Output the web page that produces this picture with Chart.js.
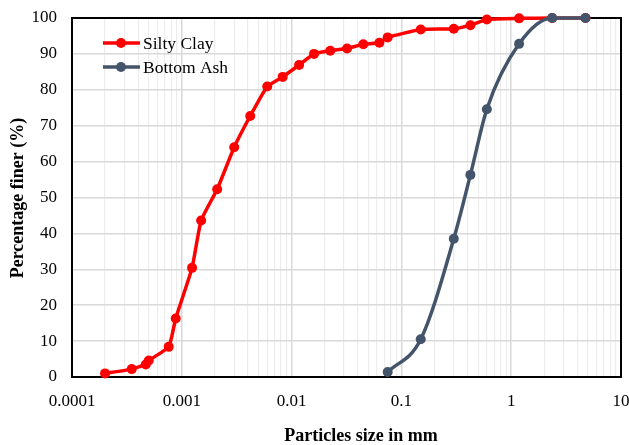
<!DOCTYPE html>
<html>
<head>
<meta charset="utf-8">
<script src="https://cdn.jsdelivr.net/npm/chart.js@4.4.1/dist/chart.umd.min.js"></script>
<style>
  html, body { margin: 0; padding: 0; background: #ffffff; }
  #wrap { width: 629px; height: 445px; position: relative; }
</style>
</head>
<body>
<div id="wrap"><canvas id="grading"></canvas></div>
<script>
// Grain size distribution: particle diameter (mm) vs percentage finer (%)
const seriesNames = ['Silty Clay', 'Bottom Ash'];
const seriesColors = ['#FF0000', '#44546A'];

const clayDiameter = [0.0002, 0.00035, 0.00047, 0.0005, 0.00076, 0.00088, 0.00124, 0.0015,
  0.0021, 0.003, 0.0042, 0.006, 0.0083, 0.0117, 0.016, 0.0225, 0.032, 0.045, 0.063, 0.075,
  0.15, 0.3, 0.425, 0.6, 1.18, 2.36, 4.75];
const clayFiner = [1.0, 2.2, 3.5, 4.6, 8.4, 16.3, 30.4, 43.6,
  52.3, 64.0, 72.7, 80.9, 83.6, 86.9, 90.0, 90.9, 91.5, 92.7, 93.1, 94.6,
  96.8, 97.0, 98.0, 99.6, 99.9, 100, 100];

const ashDiameter = [0.075, 0.15, 0.3, 0.425, 0.6, 1.18, 2.36, 4.75];
const ashFiner = [1.4, 10.5, 38.5, 56.3, 74.6, 92.8, 100, 100];

const xTickLabels = ['0.0001', '0.001', '0.01', '0.1', '1', '10'];
const yTickLabels = [0, 10, 20, 30, 40, 50, 60, 70, 80, 90, 100];
const xAxisTitle = 'Particles size in mm';
const yAxisTitle = 'Percentage finer (%)';

const SERIF = '"Liberation Serif", "Times New Roman", serif';
const decadeValues = xTickLabels.map(Number);

const toPoints = (xs, ys) => xs.map((x, i) => ({ x: x, y: ys[i] }));
const isDecade = v => Math.abs(Math.log10(v) - Math.round(Math.log10(v))) < 1e-9;
const noScalePadding = scale => {
  scale.paddingLeft = 0;
  scale.paddingRight = 0;
  scale.paddingTop = 0;
  scale.paddingBottom = 0;
};

// Black frame around the plotting area
const frame = {
  id: 'frame',
  beforeDatasetsDraw(chart) {
    const { ctx, chartArea: a } = chart;
    ctx.save();
    ctx.strokeStyle = '#000000';
    ctx.lineWidth = 2;
    ctx.strokeRect(a.left, a.top, a.right - a.left, a.bottom - a.top);
    ctx.restore();
  }
};

// Axis titles
const axisTitles = {
  id: 'axisTitles',
  afterDraw(chart) {
    const { ctx } = chart;
    ctx.save();
    ctx.fillStyle = '#000000';
    ctx.font = 'bold 18px ' + SERIF;
    ctx.textAlign = 'center';
    ctx.textBaseline = 'middle';
    ctx.fillText(xAxisTitle, 361, 436);
    ctx.translate(18, 198);
    ctx.rotate(-Math.PI / 2);
    ctx.fillText(yAxisTitle, 0, 0);
    ctx.restore();
  }
};

// Legend drawn inside the plotting area, top left
const insideLegend = {
  id: 'insideLegend',
  afterDatasetsDraw(chart) {
    const { ctx } = chart;
    ctx.save();
    ctx.font = '17.5px ' + SERIF;
    ctx.textBaseline = 'middle';
    ctx.textAlign = 'left';
    chart.data.datasets.forEach((ds, i) => {
      const y = 43 + i * 24;
      ctx.strokeStyle = ds.borderColor;
      ctx.lineWidth = 3.5;
      ctx.beginPath();
      ctx.moveTo(103, y);
      ctx.lineTo(140, y);
      ctx.stroke();
      ctx.fillStyle = ds.backgroundColor;
      ctx.beginPath();
      ctx.arc(121, y, 5, 0, Math.PI * 2);
      ctx.fill();
      ctx.fillStyle = '#000000';
      ctx.fillText(ds.label, 143, y + 1);
    });
    ctx.restore();
  }
};

new Chart(document.getElementById('grading'), {
  type: 'line',
  data: {
    datasets: [
      {
        label: seriesNames[0],
        data: toPoints(clayDiameter, clayFiner),
        borderColor: seriesColors[0],
        backgroundColor: seriesColors[0],
        borderWidth: 3.5,
        pointRadius: 5,
        pointBorderWidth: 0,
        tension: 0.15,
        clip: false,
        order: 1
      },
      {
        label: seriesNames[1],
        data: toPoints(ashDiameter, ashFiner),
        borderColor: seriesColors[1],
        backgroundColor: seriesColors[1],
        borderWidth: 3.5,
        pointRadius: 5,
        pointBorderWidth: 0,
        cubicInterpolationMode: 'monotone',
        clip: false,
        order: 0
      }
    ]
  },
  options: {
    responsive: true,
    maintainAspectRatio: false,
    animation: false,
    events: [],
    layout: { padding: { top: 18, right: 8, left: 0, bottom: 0 } },
    plugins: {
      legend: { display: false },
      tooltip: { enabled: false },
      title: { display: false }
    },
    scales: {
      x: {
        type: 'logarithmic',
        min: decadeValues[0],
        max: decadeValues[decadeValues.length - 1],
        afterFit(scale) { scale.height = 68; noScalePadding(scale); },
        afterBuildTicks(scale) {
          const ticks = [];
          for (let d = 0; d < decadeValues.length - 1; d++) {
            for (let k = 1; k <= 9; k++) ticks.push({ value: decadeValues[d] * k });
          }
          ticks.push({ value: decadeValues[decadeValues.length - 1] });
          scale.ticks = ticks;
        },
        ticks: {
          autoSkip: false,
          maxRotation: 0,
          padding: 14,
          color: '#000000',
          font: { family: SERIF, size: 17 },
          callback(value) {
            if (!isDecade(value)) return '';
            const idx = decadeValues.findIndex(v => Math.abs(v - value) / v < 1e-9);
            return idx >= 0 ? xTickLabels[idx] : '';
          }
        },
        grid: {
          drawTicks: false,
          color: ctx => (ctx.tick && isDecade(ctx.tick.value)) ? '#d9d9d9' : '#ededed',
          lineWidth: ctx => (ctx.tick && isDecade(ctx.tick.value)) ? 1.5 : 1.2
        },
        border: { display: false }
      },
      y: {
        type: 'linear',
        min: yTickLabels[0],
        max: yTickLabels[yTickLabels.length - 1],
        afterFit(scale) { scale.width = 72; noScalePadding(scale); },
        afterBuildTicks(scale) {
          scale.ticks = yTickLabels.map(v => ({ value: v }));
        },
        ticks: {
          padding: 15,
          color: '#000000',
          font: { family: SERIF, size: 17 }
        },
        grid: {
          drawTicks: false,
          color: '#d9d9d9',
          lineWidth: 1.5
        },
        border: { display: false }
      }
    }
  },
  plugins: [frame, axisTitles, insideLegend]
});
</script>
</body>
</html>
